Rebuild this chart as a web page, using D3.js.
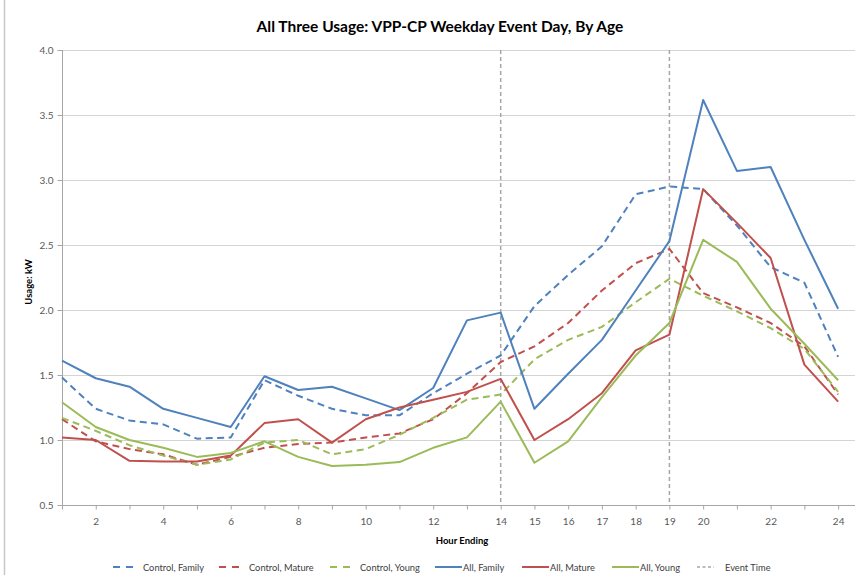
<!DOCTYPE html>
<html>
<head>
<meta charset="utf-8">
<script src="https://cdn.jsdelivr.net/npm/d3@7"></script>
<style>
  html, body { margin: 0; padding: 0; background: #fff; }
  svg { display: block; font-family: Lato, "Liberation Sans", sans-serif; }
</style>
</head>
<body>
<svg id="chart" width="859" height="575"></svg>
<script>
// ---------------- data ----------------
const hours = [1,2,3,4,5,6,7,8,9,10,11,12,13,14,15,16,17,18,19,20,21,22,23,24];
const xTickLabels = [2,4,6,8,10,12,14,15,16,17,18,19,20,22,24];
const yTicks = [0.5,1.0,1.5,2.0,2.5,3.0,3.5,4.0];
const eventHours = [14,19];

const controlFamily = [1.48,1.24,1.15,1.12,1.01,1.02,1.46,1.34,1.24,1.19,1.19,1.36,1.51,1.65,2.03,2.27,2.49,2.89,2.95,2.93,2.65,2.33,2.21,1.64];
const controlMature = [1.16,0.99,0.93,0.89,0.81,0.87,0.94,0.97,0.98,1.02,1.05,1.16,1.36,1.60,1.72,1.90,2.15,2.36,2.47,2.13,2.02,1.90,1.72,1.35];
const controlYoung  = [1.17,1.07,0.96,0.88,0.81,0.85,0.98,1.00,0.89,0.93,1.04,1.17,1.31,1.35,1.62,1.77,1.87,2.06,2.24,2.11,1.99,1.86,1.70,1.37];
const allFamily     = [1.61,1.475,1.41,1.24,1.17,1.10,1.49,1.385,1.41,1.32,1.23,1.40,1.92,1.98,1.24,1.51,1.77,2.15,2.53,3.615,3.07,3.10,2.54,2.01];
const allMature     = [1.02,1.00,0.84,0.835,0.835,0.88,1.13,1.16,0.98,1.16,1.25,1.31,1.37,1.47,1.00,1.16,1.36,1.69,1.81,2.93,2.67,2.40,1.58,1.295];
const allYoung      = [1.29,1.10,1.00,0.94,0.87,0.90,0.99,0.87,0.80,0.81,0.83,0.94,1.02,1.295,0.825,0.99,1.33,1.65,1.90,2.54,2.37,2.01,1.74,1.46];

const seriesNames = ["Control, Family","Control, Mature","Control, Young","All, Family","All, Mature","All, Young"];
const seriesValues = [controlFamily, controlMature, controlYoung, allFamily, allMature, allYoung];
const seriesColors = ["#4F81BD","#C0504D","#9BBB59","#4F81BD","#C0504D","#9BBB59"];
const seriesDashed = [true,true,true,false,false,false];
const eventLabel = "Event Time";

// ---------------- layout ----------------
const svg = d3.select("#chart");
const plot = {left: 62, right: 855, top: 50, bottom: 505};
const x = d3.scaleLinear().domain([1, 24.5]).range([plot.left, plot.right]);
const y = d3.scaleLinear().domain([0.5, 4.0]).range([plot.bottom, plot.top]);

// outer border (left edge)
svg.append("line").attr("x1",4.5).attr("x2",4.5).attr("y1",0).attr("y2",575)
  .attr("stroke","#c8c8c8").attr("stroke-width",1.5);

// title
svg.append("text").attr("x", 440).attr("y", 32).attr("text-anchor","middle")
  .attr("font-size", 15.5).attr("font-weight","bold").attr("fill","#000")
  .text("All Three Usage: VPP-CP Weekday Event Day, By Age");

// gridlines
svg.append("g").selectAll("line").data(yTicks.filter(d => d > 0.5)).join("line")
  .attr("x1", plot.left).attr("x2", plot.right)
  .attr("y1", d => Math.round(y(d)) + 0.5).attr("y2", d => Math.round(y(d)) + 0.5)
  .attr("stroke", "#d4d4d4").attr("stroke-width", 1.2);

// y axis
const yAxis = d3.axisLeft(y).tickValues(yTicks).tickFormat(d3.format(".1f")).tickSize(5).tickPadding(4);
const gy = svg.append("g").attr("transform", `translate(${plot.left + 0.5},0)`).call(yAxis);
gy.select(".domain").attr("stroke", "#a6a6a6").attr("d", `M0,${plot.top}V${plot.bottom}`);
gy.selectAll(".tick line").attr("stroke", "#a6a6a6");
gy.selectAll(".tick text").attr("font-size", 10).attr("fill", "#595959")
  .attr("font-family", "Lato, 'Liberation Sans', sans-serif");

// x axis
const xAxis = d3.axisBottom(x).tickValues(hours).tickSize(4).tickPadding(8)
  .tickFormat(d => xTickLabels.includes(d) ? d : "");
const gx = svg.append("g").attr("transform", `translate(0,${plot.bottom + 0.5})`).call(xAxis);
gx.select(".domain").attr("stroke", "#a6a6a6").attr("d", `M${plot.left},0H${plot.right}`);
gx.selectAll(".tick line").attr("stroke", "#a6a6a6");
gx.selectAll(".tick text").attr("font-size", 10).attr("fill", "#595959")
  .attr("font-family", "Lato, 'Liberation Sans', sans-serif");

// axis titles
svg.append("text").attr("x", 462).attr("y", 544).attr("text-anchor","middle")
  .attr("font-size", 9.5).attr("font-weight","bold").attr("fill","#000").text("Hour Ending");
svg.append("text").attr("transform", "translate(32,282) rotate(-90)").attr("text-anchor","middle")
  .attr("font-size", 9.5).attr("font-weight","bold").attr("fill","#000").text("Usage: kW");

// event lines
svg.append("g").selectAll("line").data(eventHours).join("line")
  .attr("x1", d => x(d)).attr("x2", d => x(d))
  .attr("y1", plot.top).attr("y2", plot.bottom)
  .attr("stroke", "#a6a6a6").attr("stroke-width", 1.5).attr("stroke-dasharray", "4,3");

// series lines
const line = d3.line().x((d,i) => x(hours[i])).y(d => y(d));
const order = [0,1,2,3,4,5];
svg.append("g").selectAll("path").data(order).join("path")
  .attr("d", i => line(seriesValues[i]))
  .attr("fill", "none")
  .attr("stroke", i => seriesColors[i])
  .attr("stroke-width", 2)
  .attr("stroke-linejoin", "round")
  .attr("stroke-dasharray", i => seriesDashed[i] ? "7,4.5" : null);

// legend
const legendY = 567;
const legendX = [113, 219, 330, 435, 522, 612, 697];
const legendItems = seriesNames.map((n,i) => ({name:n, color:seriesColors[i], dashed:seriesDashed[i], event:false}))
  .concat([{name: eventLabel, color:"#a6a6a6", dashed:true, event:true}]);
const lg = svg.append("g");
legendItems.forEach((it, i) => {
  const g = lg.append("g").attr("transform", `translate(${legendX[i]},${legendY})`);
  let sampleLen, gap;
  if (it.event) { sampleLen = 17; gap = 11; }
  else if (it.dashed) { sampleLen = 20; gap = 10; }
  else { sampleLen = 27; gap = 1; }
  g.append("line").attr("x1", 0).attr("x2", sampleLen).attr("y1", 0).attr("y2", 0)
    .attr("stroke", it.color).attr("stroke-width", it.event ? 1.5 : 2)
    .attr("stroke-dasharray", it.event ? "3,2.5" : (it.dashed ? "7,6" : null));
  g.append("text").attr("x", sampleLen + gap).attr("y", 3.5)
    .attr("font-size", 9.3).attr("fill", "#404040").text(it.name);
});
</script>
</body>
</html>
